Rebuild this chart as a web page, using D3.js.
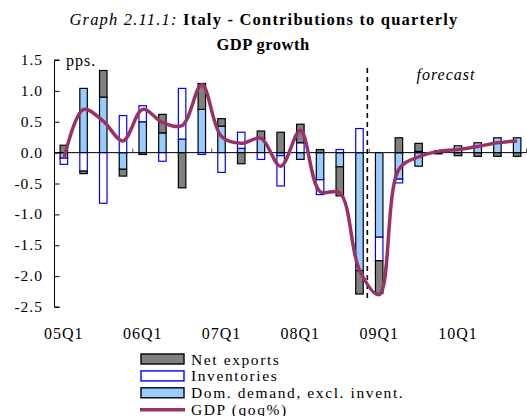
<!DOCTYPE html>
<html><head><meta charset="utf-8">
<script src="https://cdn.jsdelivr.net/npm/d3@7"></script>
<style>
html,body{margin:0;padding:0;background:#fff;}
svg{display:block;font-family:"Liberation Serif","Times New Roman",serif;}
</style></head>
<body>
<svg id="chart" width="527" height="416"></svg>
<script>
const quarters = ["05Q1","05Q2","05Q3","05Q4","06Q1","06Q2","06Q3","06Q4","07Q1","07Q2","07Q3","07Q4",
                  "08Q1","08Q2","08Q3","08Q4","09Q1","09Q2","09Q3","09Q4","10Q1","10Q2","10Q3","10Q4"];
const domDemand   = [-0.09, 1.04, 0.90,-0.27, 0.50, 0.32, 0.22, 0.70, 0.43, 0.07, 0.23,-0.05,
                     -0.11,-0.44,-0.23,-1.91,-1.37,-0.43,-0.22, 0.03, 0.11, 0.16, 0.24, 0.24];
const inventories = [-0.10,-0.30,-0.82, 0.60, 0.26,-0.14, 0.82,-0.03,-0.32, 0.26,-0.11,-0.49,
                      0.16,-0.24, 0.05, 0.39,-0.38,-0.06, 0.02, 0.00, 0.00, 0.00, 0.00, 0.00];
const netExports  = [ 0.12,-0.04, 0.43,-0.11,-0.03, 0.30,-0.57, 0.42, 0.12,-0.18, 0.12, 0.33,
                      0.30, 0.05,-0.47,-0.38,-0.53, 0.24, 0.13,-0.02,-0.05,-0.06,-0.06,-0.06];
const gdp         = [-0.10, 0.70, 0.51, 0.19, 0.70, 0.49, 0.44, 1.10, 0.26, 0.15, 0.23,-0.22,
                      0.36,-0.63,-0.65,-1.90,-2.30,-0.27,-0.07, 0.02, 0.05, 0.10, 0.16, 0.19];
const yTicks = [1.5, 1.0, 0.5, 0.0, -0.5, -1.0, -1.5, -2.0, -2.5];
const xLabels = ["05Q1","06Q1","07Q1","08Q1","09Q1","10Q1"];
const forecastStart = "09Q1";
const seriesNames = ["Net exports","Inventories","Dom. demand, excl. invent.","GDP (qoq%)"];

const svg = d3.select("#chart");
const x = d3.scaleBand().domain(quarters).range([54, 527]).paddingInner(0.62).paddingOuter(0.31);
const y = d3.scaleLinear().domain([-2.5, 1.5]).range([307, 60]);

// title
const title = svg.append("text").attr("x", 264).attr("y", 25).attr("text-anchor", "middle")
  .style("font-size", "16.5px").style("letter-spacing", "1.2px");
title.append("tspan").style("font-style", "italic").text("Graph 2.11.1: ");
title.append("tspan").style("font-weight", "bold").text("Italy - Contributions to quarterly");
svg.append("text").attr("x", 263).attr("y", 50).attr("text-anchor", "middle")
  .style("font-size", "16.5px").style("letter-spacing", "0.5px").style("font-weight", "bold").text("GDP growth");

// data table & stack
const rows = quarters.map((q, i) => ({q, dom: domDemand[i], inv: inventories[i], nx: netExports[i]}));
const stack = d3.stack().keys(["dom", "inv", "nx"]).offset(d3.stackOffsetDiverging);
const layers = stack(rows);
const style = {
  dom: {fill: "#99ccff", stroke: "#000"},
  inv: {fill: "#ffffff", stroke: "#0000ff"},
  nx:  {fill: "#808080", stroke: "#000"}
};
layers.forEach(layer => {
  svg.append("g").selectAll("rect").data(layer).join("rect")
    .attr("x", d => x(d.data.q))
    .attr("width", x.bandwidth())
    .attr("y", d => y(Math.max(d[0], d[1])))
    .attr("height", d => Math.abs(y(d[0]) - y(d[1])))
    .attr("fill", style[layer.key].fill)
    .attr("stroke", style[layer.key].stroke)
    .attr("stroke-width", 1.2);
});

// zero axis
svg.append("line").attr("x1", 54).attr("x2", 527).attr("y1", y(0)).attr("y2", y(0))
  .attr("stroke", "#000").attr("stroke-width", 1);
// group ticks on zero line
quarters.forEach((q, i) => {
  if (i % 4 === 0 && i > 0) {
    const xx = x(q) - x.step() * x.paddingInner() / 2;
    svg.append("line").attr("x1", xx).attr("x2", xx).attr("y1", y(0) - 4).attr("y2", y(0))
      .attr("stroke", "#555").attr("stroke-width", 1);
  }
});
svg.append("line").attr("x1", 526.5).attr("x2", 526.5).attr("y1", y(0) - 4).attr("y2", y(0))
  .attr("stroke", "#555").attr("stroke-width", 1);

// y axis
const yAxis = d3.axisRight(y).tickValues(yTicks).tickSize(5).tickFormat("");
const yg = svg.append("g").attr("transform", "translate(54.5,0)").call(yAxis);
yg.select(".domain").attr("d", `M5,${y(1.5)}H0V${y(-2.5)}H5`).attr("stroke", "#000");
yg.selectAll(".tick line").attr("stroke", "#000");
svg.append("g").selectAll("text").data(yTicks).join("text")
  .attr("x", 43).attr("y", d => y(d) + 5).attr("text-anchor", "end")
  .style("font-size", "15.5px").style("letter-spacing", "1px")
  .text(d => d3.format(".1f")(d).replace("−", "-"));

// x labels
svg.append("g").selectAll("text").data(xLabels).join("text")
  .attr("x", d => x(d) + x.bandwidth() / 2).attr("y", 339).attr("text-anchor", "middle")
  .style("font-size", "16px").style("letter-spacing", "1px").text(d => d);

// forecast divider
const fx = x(forecastStart) - x.step() * x.paddingInner() / 2 - 2;
svg.append("line").attr("x1", fx).attr("x2", fx).attr("y1", y(1.37)).attr("y2", y(-2.36))
  .attr("stroke", "#000").attr("stroke-width", 1.6).attr("stroke-dasharray", "5,4");
svg.append("text").attr("x", 446).attr("y", 80).attr("text-anchor", "middle")
  .style("font-size", "16px").style("letter-spacing", "1px").style("font-style", "italic").text("forecast");
svg.append("text").attr("x", 66).attr("y", 66).style("font-size", "16px").style("letter-spacing", "1px").text("pps.");

// GDP line
const line = d3.line().x((d, i) => x(quarters[i]) + x.bandwidth() / 2).y(d => y(d))
  .curve(d3.curveCatmullRom.alpha(0.5));
svg.append("path").datum(gdp).attr("d", line).attr("fill", "none")
  .attr("stroke", "#993366").attr("stroke-width", 3.5).attr("stroke-linejoin", "round");

// legend
const lg = svg.append("g");
const legendItems = [
  {name: seriesNames[0], type: "rect", fill: "#808080", stroke: "#000"},
  {name: seriesNames[1], type: "rect", fill: "#ffffff", stroke: "#0000ff"},
  {name: seriesNames[2], type: "rect", fill: "#99ccff", stroke: "#000"},
  {name: seriesNames[3], type: "line", stroke: "#993366"}
];
legendItems.forEach((it, i) => {
  const cy = 359 + i * 16.9;
  if (it.type === "rect") {
    lg.append("rect").attr("x", 141).attr("y", cy - 5).attr("width", 43).attr("height", 10)
      .attr("fill", it.fill).attr("stroke", it.stroke).attr("stroke-width", 1.4);
  } else {
    lg.append("line").attr("x1", 140).attr("x2", 185).attr("y1", cy).attr("y2", cy)
      .attr("stroke", it.stroke).attr("stroke-width", 3.5);
  }
  lg.append("text").attr("x", 191).attr("y", cy + 5.5).style("font-size", "15.5px")
    .style("letter-spacing", "1.6px").text(it.name);
});
</script>
</body></html>
